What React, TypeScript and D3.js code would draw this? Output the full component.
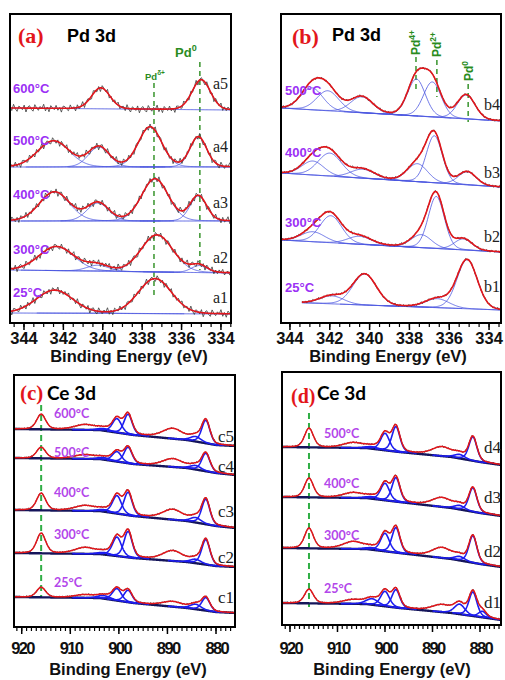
import React from "react";
import * as d3 from "d3";

// ---------------- DATA ----------------
const pdTickValues = [344, 342, 340, 338, 336, 334];
const ceTickValues = [920, 910, 900, 890, 880];

// fixed residuals (hand-typed) used for the raw-data trace around the fit
const residuals = [
  0.32, -0.61, 0.88, -0.17, -0.79, 0.46, 0.12, -0.38, 0.71, -0.93, 0.24, 0.58, -0.29, -0.72, 0.83, 0.05,
  -0.51, 0.41, -0.08, 0.94, -0.63, 0.27, -0.84, 0.62, 0.09, -0.33, 0.69, -0.47, 0.18, -0.91, 0.53, 0.37,
  -0.22, -0.58, 0.79, -0.12, 0.31, -0.74, 0.64, -0.41, 0.02, 0.89, -0.81, 0.21, 0.49, -0.27, -0.66, 0.73,
  0.14, -0.52, 0.43, -0.88, 0.57, 0.19, -0.24, 0.81, -0.69, 0.34, -0.44, 0.51, -0.06, 0.72, -0.59, 0.11,
];

// Panel (a) Pd 3d — peaks: [centre eV, height a.u., FWHM eV]
const aIds = ["a5", "a4", "a3", "a2", "a1"];
const aTemps = ["600", "500", "400", "300", "25"];
const aBaseLeft = [215, 156, 102, 53, 10];
const aBaseRight = [213, 156, 102, 50, 9];
const aPeaks = [
  [[340.1, 21, 1.1], [335.0, 30, 1.1]],
  [[342.5, 26, 1.9], [340.2, 20, 1.25], [337.6, 40, 1.4], [335.15, 30, 1.0]],
  [[342.45, 29, 1.8], [340.25, 18, 1.3], [337.35, 42, 1.6], [335.15, 25, 1.0]],
  [[342.35, 24, 2.1], [340.25, 6, 1.3], [337.25, 37, 1.9], [335.1, 7, 0.95]],
  [[342.45, 23, 2.2], [337.35, 35, 2.0]],
];
const aMarkerE = [335.07, 337.4];

// Panel (b) Pd 3d
const bIds = ["b4", "b3", "b2", "b1"];
const bTemps = ["500", "400", "300", "25"];
const bBaseLeft = [215, 150, 83, 21];
const bBaseRight = [202, 136, 71, 13];
const bDataStart = [0, 0, 0, 343.4];
const bPeaks = [
  [[342.9, 22, 1.3], [342.1, 20, 1.3], [340.4, 16, 1.3], [337.65, 37, 1.05], [336.85, 35, 1.05], [335.15, 24, 1.05]],
  [[342.85, 14, 1.3], [342.0, 23, 1.4], [340.35, 9, 1.4], [337.6, 18, 1.2], [336.75, 47, 0.95], [335.1, 13, 1.05]],
  [[342.85, 10, 1.4], [341.95, 27, 1.3], [340.5, 8, 1.4], [337.4, 13, 1.2], [336.65, 52, 0.95], [335.3, 11, 1.05]],
  [[341.9, 8, 1.4], [340.25, 31, 1.4], [336.6, 9, 1.4], [335.1, 49, 1.2]],
];
const bMarkerE = [337.67, 336.62, 335.05];
const bMarkerSup = ["4+", "2+", "0"];

// Ce 3d components
const ceCentersC = [916.0, 907.0, 903.0, 900.4, 898.1, 888.9, 884.2, 882.1, 879.5];
const ceCentersD = [916.0, 906.7, 902.7, 900.0, 897.7, 888.0, 884.3, 881.5, 879.5];
const ceWidths = [2.2, 5.0, 3.0, 2.2, 2.0, 5.0, 2.6, 2.0, 2.0];
const ceBlue = [false, false, true, true, true, false, true, true, true];

// Panel (c)
const cIds = ["c5", "c4", "c3", "c2", "c1"];
const cTemps = ["600", "500", "400", "300", "25"];
const cBgKnotsE = [921.6, 904, 897, 886, 880, 876];
const cBg = [
  [198, 197, 192, 187, 182, 181],
  [169, 168, 163, 159, 154, 152],
  [117, 116, 111, 106, 101, 99],
  [74, 73, 69, 65, 61, 60],
  [30, 29, 24, 19, 15, 14],
];
const cHeights = [
  [15, 5, 2, 14, 20, 10, 5, 23, 0],
  [11, 4, 2, 10, 16, 8, 4, 18, 0],
  [17, 5, 2, 18, 23, 10, 5, 25, 0],
  [20, 6, 2, 19, 26, 10, 4, 25, 0],
  [10, 3, 3, 12, 12, 5, 5, 13, 0],
];
const cMarkerE = 916.0;

// Panel (d)
const dIds = ["d4", "d3", "d2", "d1"];
const dTemps = ["500", "400", "300", "25"];
const dBgKnotsE = [921.7, 904, 897, 886, 880, 875.5];
const dBg = [
  [178, 177, 173, 168, 163, 160],
  [128, 127, 123, 117, 112, 109],
  [77, 76, 72, 66, 61, 58],
  [22, 21, 17, 12, 8, 5],
];
const dHeights = [
  [19, 5, 2, 17, 25, 9, 4, 24, 0],
  [19, 5, 2, 17, 24, 9, 4, 24, 0],
  [20, 7, 2, 18, 25, 10, 4, 27, 0],
  [14, 4, 6, 15, 18, 7, 10, 24, 6],
];
const dMarkerE = 916.0;

// ---------------- LAYOUT ----------------
const frameA = { x0: 10, x1: 231, y0: 14, y1: 323 };
const frameB = { x0: 281, x1: 501, y0: 14, y1: 323 };
const frameC = { x0: 14, x1: 235, y0: 375, y1: 627 };
const frameD = { x0: 282, x1: 501, y0: 372, y1: 625 };

const xA = d3.scaleLinear().domain([344.71, 333.49]).range([frameA.x0, frameA.x1]);
const yA = d3.scaleLinear().domain([0, frameA.y1 - frameA.y0]).range([frameA.y1, frameA.y0]);
const xB = d3.scaleLinear().domain([344.45, 333.4]).range([frameB.x0, frameB.x1]);
const yB = d3.scaleLinear().domain([0, frameB.y1 - frameB.y0]).range([frameB.y1, frameB.y0]);
const xC = d3.scaleLinear().domain([921.59, 876.09]).range([frameC.x0, frameC.x1]);
const yC = d3.scaleLinear().domain([0, frameC.y1 - frameC.y0]).range([frameC.y1, frameC.y0]);
const xD = d3.scaleLinear().domain([921.68, 875.58]).range([frameD.x0, frameD.x1]);
const yD = d3.scaleLinear().domain([0, frameD.y1 - frameD.y0]).range([frameD.y1, frameD.y0]);

const aTempY = [93, 145, 199, 254, 297];
const aIdY = [89, 152, 208, 263, 303];
const bTempY = [95, 157, 227, 292];
const bIdY = [110, 178, 242, 292];
const cTempY = [418, 457, 497, 539, 587];
const cIdY = [442, 472, 517, 563, 603];
const dTempY = [438, 488, 540, 593];
const dIdY = [453, 503, 557, 608];

const PURPLE = "#9b30f5";
const PURPLE2 = "#b347ea";
const GREEN = "#2a8c1e";
const RED = "#e3161b";
const SANS = "'Liberation Sans', Arial, sans-serif";
const SERIF = "'Liberation Serif', 'Times New Roman', serif";
const LATO = "Lato, 'Liberation Sans', sans-serif";

type Peak = { c: number; h: number; w: number; blue: boolean };
type Spec = { baseE: number[]; baseI: number[]; peaks: Peak[]; from?: number };
type Style = {
  eta: number; fitStep: number; dataStep: number; noise: number;
  dataColor: string; dataWidth: number; fitColor: string; fitWidth: number;
  compColor: string; compWidth: number; baseColor: string; baseWidth: number; compSpan: number;
};

function pv(e: number, c: number, h: number, w: number, eta: number) {
  const t = (e - c) / w;
  return h * (eta / (1 + 4 * t * t) + (1 - eta) * Math.exp(-4 * Math.LN2 * t * t));
}

function SpectraPanel({ id, x, y, specs, st }: { id: string; x: any; y: any; specs: Spec[]; st: Style }) {
  const [dL, dR] = x.domain();
  const [r0, r1] = x.range();
  const [yb, yt] = y.range();
  const line = d3.line<[number, number]>().x((d) => x(d[0])).y((d) => y(d[1]));
  return (
    <g>
      <defs>
        <clipPath id={id}>
          <rect x={r0} y={yt} width={r1 - r0} height={yb - yt} />
        </clipPath>
      </defs>
      <g clipPath={`url(#${id})`} fill="none" strokeLinejoin="round">
        {specs.map((s, k) => {
          const bg = d3.scaleLinear().domain(s.baseE).range(s.baseI).clamp(true);
          const start = s.from && s.from > 0 ? s.from : dL;
          const nFit = Math.floor((start - dR) / st.fitStep) + 1;
          const eFit = d3.range(nFit).map((i) => start - i * st.fitStep);
          const sum = (e: number) => d3.sum(s.peaks, (p) => pv(e, p.c, p.h, p.w, st.eta));
          const fit = eFit.map((e) => [e, bg(e) + sum(e)] as [number, number]);
          const base = eFit.map((e) => [e, bg(e)] as [number, number]);
          const comps = s.peaks
            .filter((p) => p.blue && p.h > 0)
            .map((p) =>
              eFit
                .filter((e) => Math.abs(e - p.c) < p.w * st.compSpan)
                .map((e) => [e, bg(e) + pv(e, p.c, p.h, p.w, st.eta)] as [number, number])
            );
          const nData = Math.floor((start - dR) / st.dataStep) + 1;
          const data = d3.range(nData).map((i) => {
            const e = start - i * st.dataStep;
            return [e, bg(e) + sum(e) + residuals[(i + k * 23) % residuals.length] * st.noise] as [number, number];
          });
          return (
            <g key={k}>
              <path d={line(base) || ""} stroke={st.baseColor} strokeWidth={st.baseWidth} />
              {comps.map((c, j) => (
                <path key={j} d={line(c) || ""} stroke={st.compColor} strokeWidth={st.compWidth} />
              ))}
              <path d={line(data) || ""} stroke={st.dataColor} strokeWidth={st.dataWidth} />
              <path d={line(fit) || ""} stroke={st.fitColor} strokeWidth={st.fitWidth} />
            </g>
          );
        })}
      </g>
    </g>
  );
}

function Axis({ x, y0, majors, minorStep, labelY, titleX, titleY, condensed }: any) {
  const [dL, dR] = x.domain();
  const minors = d3.range(Math.floor(dL / minorStep) * minorStep, dR, -minorStep).filter((v) => v <= dL && v >= dR);
  return (
    <g>
      {minors.map((v, i) => (
        <line key={"m" + i} x1={x(v)} x2={x(v)} y1={y0} y2={y0 + 4} stroke="#000" strokeWidth={1.2} />
      ))}
      {majors.map((v: number, i: number) => (
        <g key={"M" + i}>
          <line x1={x(v)} x2={x(v)} y1={y0} y2={y0 + 7} stroke="#000" strokeWidth={1.5} />
          <text
            x={x(v) + (condensed ? 0.8 : 0)}
            y={labelY}
            textAnchor="middle"
            fontFamily={SANS}
            fontWeight="bold"
            fontSize={16.5}
            letterSpacing={condensed ? -1.6 : 0}
            fill="#111"
          >
            {v}
          </text>
        </g>
      ))}
      <text x={titleX} y={titleY} textAnchor="middle" fontFamily={SANS} fontWeight="bold" fontSize={16.5} fill="#111">
        Binding Energy (eV)
      </text>
    </g>
  );
}

function Frame({ f }: any) {
  return <rect x={f.x0} y={f.y0} width={f.x1 - f.x0} height={f.y1 - f.y0} fill="none" stroke="#000" strokeWidth={2} />;
}

const pdStyleA: Style = {
  eta: 0.1, fitStep: 0.04, dataStep: 0.09, noise: 4.2,
  dataColor: "#3a3a3a", dataWidth: 0.8, fitColor: RED, fitWidth: 1.6,
  compColor: "#4a55e0", compWidth: 0.8, baseColor: "#4a55e0", baseWidth: 0.9, compSpan: 3,
};
const pdStyleB: Style = { ...pdStyleA, noise: 1.4, dataStep: 0.06, compSpan: 3.5 };
const ceStyle: Style = {
  eta: 0.35, fitStep: 0.08, dataStep: 0.2, noise: 0.9,
  dataColor: "#333", dataWidth: 0.9, fitColor: RED, fitWidth: 1.5,
  compColor: "#1c1cf0", compWidth: 1.6, baseColor: "#15155a", baseWidth: 2.4, compSpan: 2.2,
};

function pdSpecs(peaks: number[][][], left: number[], right: number[], x: any, starts?: number[]): Spec[] {
  const [dL, dR] = x.domain();
  return peaks.map((ps, k) => ({
    baseE: [dL, dR],
    baseI: [left[k], right[k]],
    peaks: ps.map((p) => ({ c: p[0], h: p[1], w: p[2], blue: true })),
    from: starts ? starts[k] : 0,
  }));
}

function ceSpecs(centers: number[], heights: number[][], knotsE: number[], bgs: number[][]): Spec[] {
  return heights.map((hs, k) => ({
    baseE: knotsE,
    baseI: bgs[k],
    peaks: hs.map((h, j) => ({ c: centers[j], h, w: ceWidths[j], blue: ceBlue[j] })),
  }));
}

function TempLabel({ x, y, t, color, font, size }: any) {
  return (
    <text x={x} y={y} fontFamily={font} fontWeight="bold" fontSize={size} fill={color}>
      {t}°C
    </text>
  );
}

export default function App() {
  const specsA = pdSpecs(aPeaks, aBaseLeft, aBaseRight, xA);
  const specsB = pdSpecs(bPeaks, bBaseLeft, bBaseRight, xB, bDataStart);
  const specsC = ceSpecs(ceCentersC, cHeights, cBgKnotsE, cBg);
  const specsD = ceSpecs(ceCentersD, dHeights, dBgKnotsE, dBg);
  const bMarkTop = [57, 60, 84];
  const bMarkBot = [90, 97, 122];
  const bTextY = [55, 57, 81];
  return (
    <svg width={505} height={680} style={{ position: "absolute", left: 0, top: 0, background: "#fff" }}>
      <rect x={0} y={0} width={505} height={680} fill="#fff" />
      {/* ---------- Panel (a) ---------- */}
      <line x1={xA(aMarkerE[0])} x2={xA(aMarkerE[0])} y1={62} y2={270} stroke={GREEN} strokeWidth={1.4} strokeDasharray="5,4" />
      <line x1={xA(aMarkerE[1])} x2={xA(aMarkerE[1])} y1={83} y2={297} stroke={GREEN} strokeWidth={1.4} strokeDasharray="5,4" />
      <SpectraPanel id="clipA" x={xA} y={yA} specs={specsA} st={pdStyleA} />
      <Frame f={frameA} />
      <Axis x={xA} y0={frameA.y1} majors={pdTickValues} minorStep={0.5} labelY={343.5} titleX={129} titleY={362} />
      <text x={18} y={43} fontFamily={SERIF} fontWeight="bold" fontSize={22} fill={RED}>(a)</text>
      <text x={67} y={42} fontFamily={SANS} fontWeight="bold" fontSize={18} fill="#000">Pd 3d</text>
      <text x={175} y={57} fontFamily={SANS} fontWeight="bold" fontSize={13} fill={GREEN}>
        Pd<tspan dy={-6} fontSize={9}>0</tspan>
      </text>
      <text x={145} y={80} fontFamily={SANS} fontWeight="bold" fontSize={9.5} fill={GREEN}>
        Pd<tspan dy={-5} fontSize={6.5}>δ+</tspan>
      </text>
      {aTemps.map((t, i) => (
        <TempLabel key={i} x={13} y={aTempY[i]} t={t} color={PURPLE} font={SANS} size={13} />
      ))}
      {aIds.map((s, i) => (
        <text key={i} x={213} y={aIdY[i]} fontFamily={SERIF} fontSize={16} fill="#222">{s}</text>
      ))}

      {/* ---------- Panel (b) ---------- */}
      {bMarkerE.map((e, i) => (
        <line key={i} x1={xB(e)} x2={xB(e)} y1={bMarkTop[i]} y2={bMarkBot[i]} stroke={GREEN} strokeWidth={1.4} strokeDasharray="5,4" />
      ))}
      <SpectraPanel id="clipB" x={xB} y={yB} specs={specsB} st={pdStyleB} />
      <Frame f={frameB} />
      <Axis x={xB} y0={frameB.y1} majors={pdTickValues} minorStep={0.5} labelY={343.5} titleX={388} titleY={362} />
      <text x={292} y={44} fontFamily={SERIF} fontWeight="bold" fontSize={22} fill={RED}>(b)</text>
      <text x={332} y={41} fontFamily={SANS} fontWeight="bold" fontSize={18} fill="#000">Pd 3d</text>
      {bMarkerE.map((e, i) => (
        <text
          key={i}
          transform={`translate(${xB(e) + 4.5},${bTextY[i]}) rotate(-90)`}
          fontFamily={SANS}
          fontWeight="bold"
          fontSize={12}
          fill={GREEN}
        >
          Pd<tspan dy={-5} fontSize={8.5}>{bMarkerSup[i]}</tspan>
        </text>
      ))}
      {bTemps.map((t, i) => (
        <TempLabel key={i} x={285} y={bTempY[i]} t={t} color={PURPLE} font={SANS} size={13} />
      ))}
      {bIds.map((s, i) => (
        <text key={i} x={484} y={bIdY[i]} fontFamily={SERIF} fontSize={16} fill="#222">{s}</text>
      ))}

      {/* ---------- Panel (c) ---------- */}
      <line x1={xC(cMarkerE)} x2={xC(cMarkerE)} y1={405} y2={598} stroke="#2fae45" strokeWidth={2} strokeDasharray="6,4" />
      <SpectraPanel id="clipC" x={xC} y={yC} specs={specsC} st={ceStyle} />
      <Frame f={frameC} />
      <Axis x={xC} y0={frameC.y1} majors={ceTickValues} minorStep={1} labelY={654} titleX={128} titleY={675} condensed />
      <text x={20} y={400} fontFamily={SERIF} fontWeight="bold" fontSize={21} fill={RED}>(c)</text>
      <text x={47} y={400} fontFamily={LATO} fontWeight="bold" fontSize={19} fill="#000">Ce 3d</text>
      {cTemps.map((t, i) => (
        <TempLabel key={i} x={54} y={cTempY[i]} t={t} color={PURPLE2} font={LATO} size={12.5} />
      ))}
      {cIds.map((s, i) => (
        <text key={i} x={218} y={cIdY[i]} fontFamily={SERIF} fontSize={17} fill="#222">{s}</text>
      ))}

      {/* ---------- Panel (d) ---------- */}
      <line x1={xD(dMarkerE)} x2={xD(dMarkerE)} y1={413} y2={607} stroke="#2fae45" strokeWidth={2} strokeDasharray="6,4" />
      <SpectraPanel id="clipD" x={xD} y={yD} specs={specsD} st={ceStyle} />
      <Frame f={frameD} />
      <Axis x={xD} y0={frameD.y1} majors={ceTickValues} minorStep={1} labelY={654} titleX={392} titleY={675} condensed />
      <text x={291} y={403} fontFamily={SERIF} fontWeight="bold" fontSize={20} fill={RED}>(d)</text>
      <text x={317} y={400} fontFamily={LATO} fontWeight="bold" fontSize={19} fill="#000">Ce 3d</text>
      {dTemps.map((t, i) => (
        <TempLabel key={i} x={324} y={dTempY[i]} t={t} color={PURPLE2} font={LATO} size={12.5} />
      ))}
      {dIds.map((s, i) => (
        <text key={i} x={484} y={dIdY[i]} fontFamily={SERIF} fontSize={17} fill="#222">{s}</text>
      ))}
    </svg>
  );
}
